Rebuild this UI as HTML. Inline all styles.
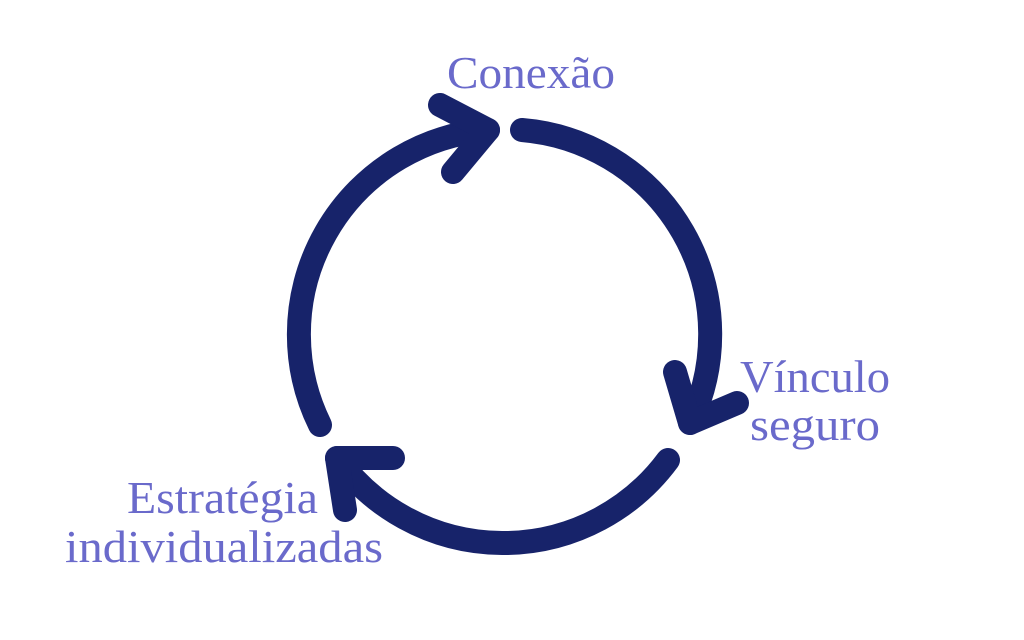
<!DOCTYPE html>
<html><head><meta charset="utf-8"><style>html,body{margin:0;padding:0;background:#fff;}svg{display:block}</style></head>
<body>
<svg width="1024" height="640" viewBox="0 0 1024 640" xmlns="http://www.w3.org/2000/svg">
<g fill="none" stroke="#17236a" stroke-width="24" stroke-linecap="round" stroke-linejoin="round">
<path d="M522 130 A205 205 0 0 1 690 423"/>
<path d="M675 372 L690 423 L737 403"/>
<path d="M668 460 A205 205 0 0 1 337 458"/>
<path d="M393 458 L337 458 L345 510"/>
<path d="M320 425 A205 205 0 0 1 488 130"/>
<path d="M440 105 L488 130 L453 172"/>
</g>
<g fill="#6a6acb" font-family="'Liberation Serif', serif" font-size="46">
<text x="447" y="88" textLength="168" lengthAdjust="spacingAndGlyphs">Conexão</text>
<text x="740" y="392" textLength="150" lengthAdjust="spacingAndGlyphs">Vínculo</text>
<text x="750" y="440" textLength="130" lengthAdjust="spacingAndGlyphs">seguro</text>
<text x="127" y="513" textLength="191" lengthAdjust="spacingAndGlyphs">Estratégia</text>
<text x="65" y="562" textLength="318" lengthAdjust="spacingAndGlyphs">individualizadas</text>
</g>
</svg>
</body></html>
